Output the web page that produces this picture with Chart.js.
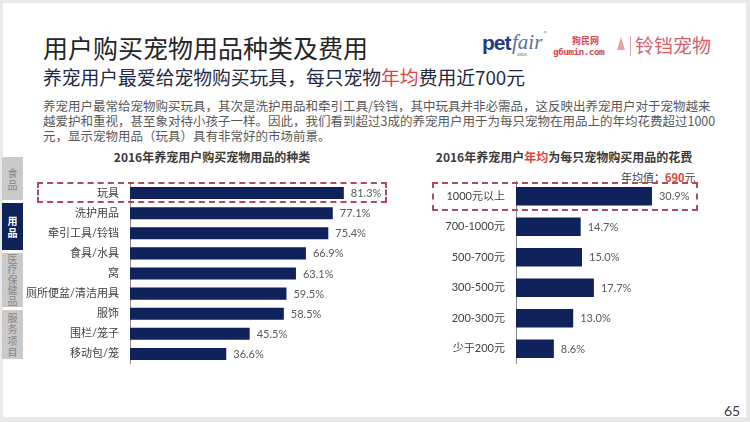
<!DOCTYPE html>
<html>
<head>
<meta charset="utf-8">
<script src="https://cdn.jsdelivr.net/npm/chart.js@4"></script>
<style>
  html, body { margin:0; padding:0; }
  body { width:750px; height:422px; background:#e9e9e9; position:relative; overflow:hidden;
         font-family: "Noto Sans CJK SC", "Noto Sans", sans-serif; }
  .abs { position:absolute; white-space:nowrap; }
  #page { position:absolute; left:3px; top:3px; width:743px; height:414px; background:#fff; }
  .tab { position:absolute; left:2px; width:21px; text-align:center; font-size:10px; line-height:11.5px;
         display:flex; flex-direction:column; justify-content:center; align-items:center; }
  .gray { background:#cacaca; color:#858585; }
  .navy { background:#0f2259; color:#fff; font-weight:bold; }
  .dash { position:absolute; border:2px dashed #ad4c5c; box-sizing:border-box; }
  .red { color:#e2403a; }
  canvas { position:absolute; }
</style>
</head>
<body>
<div id="page"></div>

<!-- Header texts -->
<div class="abs" style="left:43px; top:33px; font-size:25px; line-height:29px; color:#262626;">用户购买宠物用品种类及费用</div>
<div class="abs" style="left:43px; top:66px; font-size:18.8px; line-height:22px; color:#1f2a44;">养宠用户最爱给宠物购买玩具，每只宠物<span class="red">年均</span>费用近700元</div>
<div class="abs" style="left:43px; top:97.5px; font-size:12.5px; line-height:15px; color:#595959;">养宠用户最常给宠物购买玩具，其次是洗护用品和牵引工具/铃铛，其中玩具并非必需品，这反映出养宠用户对于宠物越来<br>越爱护和重视，甚至象对待小孩子一样。因此，我们看到超过3成的养宠用户用于为每只宠物在用品上的年均花费超过1000<br>元，显示宠物用品（玩具）具有非常好的市场前景。</div>

<!-- Logos -->
<div class="abs" style="left:482px; top:31px; font-size:21px; line-height:24px; color:#1f3c88; font-family:'Liberation Sans', sans-serif; font-weight:bold; letter-spacing:-1px;">pet</div>
<div class="abs" style="left:512px; top:30px; font-size:21px; line-height:24px; color:#5b6f9e; font-family:'Liberation Serif', serif; font-style:italic;">fair</div>
<div class="abs" style="left:544px; top:30px; font-size:5px; line-height:6px; color:#5b6f9e;">®</div>
<div class="abs" style="left:517px; top:51px; font-size:6px; line-height:7px; color:#5b6f9e; font-family:'Liberation Serif', serif;">asia</div>
<div class="abs" style="left:572px; top:36px; font-size:9px; line-height:10px; color:#d24a55; font-weight:bold;">狗民网</div>
<div class="abs" style="left:553px; top:47px; font-size:9.5px; line-height:10px; color:#d24a55; font-weight:bold; font-family:'DejaVu Sans Mono', monospace; letter-spacing:-0.6px;">g6umin.com</div>
<div class="abs" style="left:617px; top:37px; width:0; height:0; border-left:4px solid transparent; border-right:4px solid transparent; border-bottom:13px solid #e7a0a6;"></div>
<div class="abs" style="left:630px; top:36px; width:1px; height:20px; background:#e2a0a6;"></div>
<div class="abs" style="left:635px; top:34px; font-size:19px; line-height:22px; color:#d5606a;">铃铛宠物</div>

<!-- Sidebar tabs -->
<div class="tab gray" style="top:157px; height:43px;">食<br>品</div>
<div class="tab navy" style="top:203px; height:47px;">用<br>品</div>
<div class="tab gray" style="top:253px; height:54px; line-height:10.5px;">医<br>疗<br>保<br>健<br>品</div>
<div class="tab gray" style="top:310px; height:49px;">服<br>务<br>项<br>目</div>

<!-- Chart titles -->
<div class="abs" style="left:82px; width:260px; text-align:center; top:149px; font-size:12px; line-height:16px; font-weight:bold; color:#3a3a3a;">2016年养宠用户购买宠物用品的种类</div>
<div class="abs" style="left:414px; width:300px; text-align:center; top:149px; font-size:12px; line-height:16px; font-weight:bold; color:#3a3a3a;">2016年养宠用户<span class="red">年均</span>为每只宠物购买用品的花费</div>
<div class="abs" style="left:621px; top:170px; font-size:11px; line-height:14px; color:#404040;">年均值：<b class="red">690</b>元</div>

<canvas id="leftChart" width="380" height="181" style="left:20px; top:183px;"></canvas>
<canvas id="rightChart" width="300" height="183" style="left:400px; top:181px;"></canvas>

<div class="dash" style="left:37px; top:182px; width:350px; height:21px;"></div>
<div class="dash" style="left:432px; top:182px; width:266px; height:29px;"></div>

<div class="abs" style="left:724px; top:402px; font-size:14px; line-height:18px; color:#404040; font-family:Lato, sans-serif;">65</div>

<script>
const leftCategories = ['玩具', '洗护用品', '牵引工具/铃铛', '食具/水具', '窝', '厕所便盆/清洁用具', '服饰', '围栏/笼子', '移动包/笼'];
const leftValues = [81.3, 77.1, 75.4, 66.9, 63.1, 59.5, 58.5, 45.5, 36.6];

const rightCategories = ['1000元以上', '700-1000元', '500-700元', '300-500元', '200-300元', '少于200元'];
const rightValues = [30.9, 14.7, 15.0, 17.7, 13.0, 8.6];

const BAR_COLOR = '#0f2259';
const FONT_FAMILY = "Lato, 'Noto Sans CJK SC', sans-serif";

const valueLabels = {
  id: 'valueLabels',
  afterDatasetsDraw(chart) {
    const ctx = chart.ctx;
    const meta = chart.getDatasetMeta(0);
    const data = chart.data.datasets[0].data;
    ctx.save();
    ctx.font = "11px " + FONT_FAMILY;
    ctx.fillStyle = '#595959';
    ctx.textBaseline = 'middle';
    ctx.textAlign = 'left';
    meta.data.forEach((bar, i) => {
      ctx.fillText(data[i].toFixed(1) + '%', bar.x + 7, bar.y + 0.5);
    });
    ctx.restore();
  }
};

function makeChart(id, labels, values, axisWidth, xMax, padRight) {
  return new Chart(document.getElementById(id), {
    type: 'bar',
    data: {
      labels: labels,
      datasets: [{
        data: values,
        backgroundColor: BAR_COLOR,
        borderWidth: 0,
        barPercentage: 0.6,
        categoryPercentage: 1.0
      }]
    },
    options: {
      indexAxis: 'y',
      responsive: false,
      animation: false,
      devicePixelRatio: 1,
      layout: { padding: { left: 0, right: padRight, top: 0, bottom: 0 } },
      plugins: { legend: { display: false }, tooltip: { enabled: false } },
      scales: {
        x: { display: false, min: 0, max: xMax },
        y: {
          afterFit(scale) {
            scale.width = axisWidth;
            scale.paddingTop = 0;
            scale.paddingBottom = 0;
          },
          grid: { display: true, drawOnChartArea: false, drawTicks: false, color: 'rgba(0,0,0,0)' },
          border: { display: true, color: '#8a8a8a', width: 1 },
          ticks: { color: '#404040', padding: 11, autoSkip: false, font: { size: 11, family: FONT_FAMILY } }
        }
      }
    },
    plugins: [valueLabels]
  });
}

makeChart('leftChart', leftCategories, leftValues, 110, 100, 7);
makeChart('rightChart', rightCategories, rightValues, 116, 40, 8);
</script>
</body>
</html>
